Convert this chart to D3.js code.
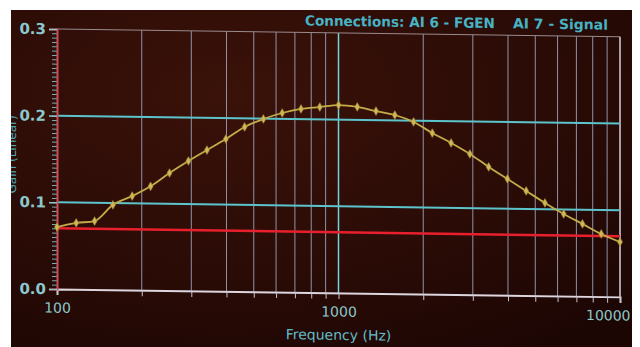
<!DOCTYPE html>
<html>
<head>
<meta charset="utf-8">
<script src="https://cdn.jsdelivr.net/npm/d3@7"></script>
<style>
  html, body { margin: 0; padding: 0; background: #fff; }
  svg { display: block; }
</style>
</head>
<body>
<div class="chart"></div>
<script>
// measured frequencies (Hz) and gain of the sweep
const freqs = [100, 117, 136, 158, 185, 215, 251, 293, 341, 398, 464, 541, 631, 736, 858,
  1000, 1166, 1359, 1585, 1848, 2154, 2512, 2929, 3415, 3981, 4642, 5412, 6310, 7356, 8577, 10000];
const gain = [0.0715, 0.0765, 0.079, 0.098, 0.1085, 0.120, 0.1356, 0.1498, 0.1627, 0.1758, 0.190,
  0.1995, 0.2067, 0.2117, 0.2142, 0.2168, 0.2149, 0.2105, 0.2062, 0.1985, 0.186, 0.1749, 0.1625,
  0.1478, 0.1343, 0.1207, 0.1072, 0.0948, 0.0836, 0.0723, 0.0634];
const refLevel = [0.07];
const cyanLevels = [0.1, 0.2];
const yTicks = [0.0, 0.1, 0.2, 0.3];
const xLabels = [100, 1000, 10000];

const W = 640, H = 347;
const margin = { top: 29, right: 20, bottom: 58, left: 57 };

let svg = d3.select('.chart').append('svg').attr('width', W).attr('height', H);

// dark screen background
let defs = svg.append('defs');
let grad = defs.append('radialGradient').attr('id', 'bg').attr('cx', '35%').attr('cy', '25%').attr('r', '90%');
grad.append('stop').attr('offset', '0%').attr('stop-color', '#3a1209');
grad.append('stop').attr('offset', '60%').attr('stop-color', '#2a0b06');
grad.append('stop').attr('offset', '100%').attr('stop-color', '#1c0604');
svg.append('rect').attr('x', 11).attr('y', 10).attr('width', 621).attr('height', 337).attr('fill', 'url(#bg)');

// photo is slightly tilted
let g = svg.append('g').attr('transform', 'translate(57,0) skewY(0.8) translate(-57,0)');

let x = d3.scaleLog().domain([100, 10000]).range([margin.left, W - margin.right]);
let y = d3.scaleLinear().domain([0, 0.3]).range([H - margin.bottom, margin.top]);

// vertical log grid
let gridX = [];
for (let d = 100; d < 10000; d *= 10) for (let k = 2; k <= 9; k++) gridX.push(d * k);
g.selectAll('.vgrid').data(gridX).enter().append('line')
  .attr('x1', d => x(d)).attr('x2', d => x(d))
  .attr('y1', y(0.3)).attr('y2', y(0))
  .attr('stroke', '#aab4d0').attr('stroke-opacity', 0.8).attr('stroke-width', 1);
g.append('line').attr('x1', x(1000)).attr('x2', x(1000)).attr('y1', y(0.3)).attr('y2', y(0))
  .attr('stroke', '#74d2da').attr('stroke-width', 1.5);

// frame
g.append('line').attr('x1', x(100)).attr('x2', x(10000)).attr('y1', y(0.3)).attr('y2', y(0.3))
  .attr('stroke', '#9a8a8e').attr('stroke-width', 1);
g.append('line').attr('x1', x(10000)).attr('x2', x(10000)).attr('y1', y(0.3)).attr('y2', y(0))
  .attr('stroke', '#d8d2dc').attr('stroke-width', 1.5);

// horizontal cyan grid
g.selectAll('.hgrid').data(cyanLevels).enter().append('line')
  .attr('x1', x(100)).attr('x2', x(10000))
  .attr('y1', d => y(d)).attr('y2', d => y(d))
  .attr('stroke', '#5cc4cc').attr('stroke-width', 2);

// red reference
g.selectAll('.ref').data(refLevel).enter().append('line')
  .attr('x1', x(100)).attr('x2', x(10000))
  .attr('y1', d => y(d)).attr('y2', d => y(d))
  .attr('stroke', '#e8202e').attr('stroke-width', 2.5);

// x axis
let xAxis = d3.axisBottom(x).tickValues([100, 1000, 10000].concat(gridX)).tickSize(6)
  .tickFormat(d => xLabels.includes(d) ? d : '');
let xa = g.append('g').attr('transform', 'translate(0,' + y(0) + ')').call(xAxis);
xa.select('.domain').attr('stroke', '#ddd6de').attr('stroke-width', 2);
xa.selectAll('.tick line').attr('stroke', '#c8c4d0');
xa.selectAll('.tick text').attr('fill', '#8cc8cc').attr('font-family', 'DejaVu Sans').attr('font-size', 14).attr('dy', '1.05em');
// last label sits against the photo edge
xa.selectAll('.tick text').filter(d => d === 10000).attr('text-anchor', 'end').attr('x', 10);

// y axis with fine minor ticks
let minor = d3.range(0, 61).map(i => i * 0.005);
let ya2 = g.append('g').attr('transform', 'translate(' + x(100) + ',0)')
  .call(d3.axisLeft(y).tickValues(minor).tickSize(5).tickFormat(''));
ya2.select('.domain').remove();
ya2.selectAll('.tick line').attr('stroke', '#6fb0b2').attr('stroke-width', 1);
let ya = g.append('g').attr('transform', 'translate(' + x(100) + ',0)')
  .call(d3.axisLeft(y).tickValues(yTicks).tickSize(8).tickFormat(d3.format('.1f')));
ya.select('.domain').attr('stroke', '#d04a5a').attr('stroke-width', 2);
ya.selectAll('.tick line').attr('stroke', '#8cc8cc').attr('stroke-width', 1.5);
ya.selectAll('.tick text').attr('fill', '#8cc8cc').attr('font-family', 'DejaVu Sans').attr('font-weight', 'bold')
  .attr('font-size', 15).attr('x', -11);

// the sweep curve
let line = d3.line().x((d, i) => x(freqs[i])).y(d => y(d)).curve(d3.curveMonotoneX);
g.append('path').datum(gain).attr('fill', 'none').attr('stroke', '#c4ac48').attr('stroke-width', 1.8).attr('d', line);
g.selectAll('.pt').data(gain).enter().append('path')
  .attr('transform', (d, i) => 'translate(' + x(freqs[i]) + ',' + y(d) + ')')
  .attr('d', d3.symbol(d3.symbolDiamond, 22))
  .attr('fill', '#cfb656').attr('stroke', '#9c8430').attr('stroke-width', 0.6);

// titles
g.append('text').attr('x', (x(100) + x(10000)) / 2).attr('y', 336).attr('text-anchor', 'middle')
  .attr('fill', '#62bcc8').attr('font-family', 'DejaVu Sans').attr('font-size', 14)
  .text('Frequency (Hz)');
g.append('text').attr('transform', 'translate(16,155) rotate(-90)').attr('text-anchor', 'middle')
  .attr('fill', '#4aa8b4').attr('font-family', 'DejaVu Sans').attr('font-size', 12)
  .text('Gain (Linear)');
g.append('text').attr('x', 305).attr('y', 22).attr('textLength', 190).attr('lengthAdjust', 'spacingAndGlyphs')
  .attr('fill', '#46b4c4').attr('font-family', 'DejaVu Sans').attr('font-weight', 'bold').attr('font-size', 14)
  .text('Connections: AI 6 - FGEN');
g.append('text').attr('x', 513).attr('y', 22).attr('textLength', 95).attr('lengthAdjust', 'spacingAndGlyphs')
  .attr('fill', '#46b4c4').attr('font-family', 'DejaVu Sans').attr('font-weight', 'bold').attr('font-size', 14)
  .text('AI 7 - Signal');

// photo border
svg.append('rect').attr('x', 0).attr('y', 0).attr('width', W).attr('height', 10).attr('fill', '#fff');
svg.append('rect').attr('x', 0).attr('y', 0).attr('width', 11).attr('height', H).attr('fill', '#fff');
svg.append('rect').attr('x', 632).attr('y', 0).attr('width', 8).attr('height', H).attr('fill', '#fff');
</script>
</body>
</html>
